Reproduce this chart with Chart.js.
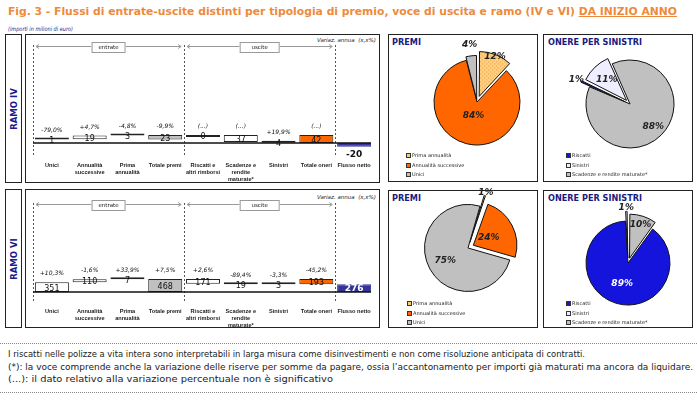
<!DOCTYPE html>
<html><head><meta charset="utf-8">
<script src="https://cdn.jsdelivr.net/npm/chart.js@4/dist/chart.umd.min.js"></script>
<style>
body{margin:0;width:697px;height:400px;background:#fff;position:relative;overflow:hidden;font-family:'DejaVu Sans',Verdana,sans-serif;}
.box{position:absolute;border:1px solid #222;box-sizing:border-box;}
.fit{position:absolute;white-space:nowrap;transform-origin:0 50%;line-height:1;}
canvas{position:absolute;}
.ramo{position:absolute;white-space:nowrap;font-weight:bold;font-size:8.5px;color:#1a1a8c;line-height:1;transform:translate(-50%,-50%) rotate(-90deg);}
.ptitle{color:#1a1a80;font-weight:bold;font-size:9px;}
.legend{position:absolute;font-size:5px;color:#222;line-height:1;}
.legend div{height:9.5px;display:flex;align-items:center;white-space:nowrap;}
.legend span.m{display:inline-block;width:3px;height:3px;border:1px solid #333;margin-right:1px;}
.dots{position:absolute;left:0;width:697px;border-top:1px dotted #888;}
.foot{font-size:8.5px;color:#222;}
</style></head><body>

<div class="fit" id="title" data-w="669" style="left:8px;top:6px;font-size:11px;font-weight:bold;color:#EE8A3C;">Fig. 3 - Flussi di entrate-uscite distinti per tipologia di premio, voce di uscita e ramo (IV e VI) <span style="text-decoration:underline;">DA INIZIO ANNO</span></div>
<div class="fit" data-w="65" style="left:8px;top:26px;font-size:6px;font-style:italic;color:#222288;">(importi in milioni di euro)</div>

<div class="box" style="left:5px;top:34px;width:17px;height:149px;"></div>
<div class="box" style="left:25px;top:34px;width:355px;height:149px;"></div>
<div class="ramo" style="left:13.5px;top:108.5px;">RAMO IV</div>
<div class="box" style="left:5px;top:189px;width:17px;height:139px;"></div>
<div class="box" style="left:25px;top:189px;width:355px;height:139px;"></div>
<div class="ramo" style="left:13.5px;top:259px;">RAMO VI</div>

<div class="fit" data-w="59" style="left:317px;top:38px;font-size:5.5px;font-style:italic;color:#222;">Variaz. annua&nbsp; (x,x%)</div>
<div class="fit" data-w="59" style="left:317px;top:195px;font-size:5.5px;font-style:italic;color:#222;">Variaz. annua&nbsp; (x,x%)</div>

<div class="box" style="left:388px;top:34px;width:150px;height:148px;"></div>
<div class="box" style="left:543px;top:34px;width:150px;height:148px;"></div>
<div class="box" style="left:388px;top:190px;width:150px;height:138px;"></div>
<div class="box" style="left:543px;top:190px;width:150px;height:138px;"></div>
<div class="fit ptitle" data-w="29" style="left:392px;top:38px;">PREMI</div>
<div class="fit ptitle" data-w="94" style="left:548px;top:38px;">ONERE PER SINISTRI</div>
<div class="fit ptitle" data-w="29" style="left:392px;top:194px;">PREMI</div>
<div class="fit ptitle" data-w="94" style="left:548px;top:194px;">ONERE PER SINISTRI</div>

<canvas id="barIV" width="353" height="147" style="left:26px;top:35px;"></canvas>
<canvas id="barVI" width="353" height="137" style="left:26px;top:190px;"></canvas>
<canvas id="pieP4" width="130" height="130" style="left:412px;top:37px;"></canvas>
<canvas id="pieO4" width="130" height="130" style="left:565px;top:39px;"></canvas>
<canvas id="pieP6" width="130" height="130" style="left:403px;top:183px;"></canvas>
<canvas id="pieO6" width="130" height="130" style="left:563px;top:198px;"></canvas>

<div class="legend" id="legP4" style="left:406px;top:151px;"></div>
<div class="legend" id="legO4" style="left:566px;top:151px;"></div>
<div class="legend" id="legP6" style="left:407px;top:299px;"></div>
<div class="legend" id="legO6" style="left:566px;top:299px;"></div>

<div class="dots" style="top:343px;"></div>
<div class="fit foot" data-w="577" style="left:8px;top:350px;">I riscatti nelle polizze a vita intera sono interpretabili in larga misura come disinvestimenti e non come risoluzione anticipata di contratti.</div>
<div class="fit foot" data-w="685" style="left:8px;top:363px;">(*): la voce comprende anche la variazione delle riserve per somme da pagare, ossia l’accantonamento per importi già maturati ma ancora da liquidare.</div>
<div class="fit foot" data-w="325" style="left:8px;top:375px;">(...): il dato relativo alla variazione percentuale non è significativo</div>
<div class="dots" style="top:392px;"></div>

<script>
// ---------- DATA ----------
const categories = [['Unici'],['Annualità','successive'],['Prima','annualità'],['Totale premi'],['Riscatti e','altri rimborsi'],['Scadenze e','rendite','maturate*'],['Sinistri'],['Totale oneri'],['Flusso netto']];
const ramoIVValues  = [1, 19, 3, 23, 0, 37, 4, 42, -20];
const ramoIVChanges = ['-79,0%','+4,7%','-4,8%','-9,9%','(...)','(...)','+19,9%','(...)',''];
const ramoVIValues  = [351, 110, 7, 468, 171, 19, 3, 193, 276];
const ramoVIChanges = ['+10,3%','-1,6%','+33,9%','+7,5%','+2,6%','-89,4%','-3,3%','-45,2%',''];
const premiLabels = ['Prima annualità','Annualità successive','Unici'];
const premiIVShares = [12, 84, 4];
const premiVIShares = [1, 24, 75];
const oneriLabels = ['Riscatti','Sinistri','Scadenze e rendite maturate*'];
const oneriIVShares = [1, 11, 88];
const oneriVIShares = [89, 1, 10];

// ---------- STYLE ----------
const FONT = "'DejaVu Sans', Verdana, sans-serif";
const TICKFONT = "'Liberation Sans', Arial, sans-serif";
Chart.defaults.font.family = FONT;
const barFills   = ['#ffffff','#ffffff','#ffffff','#C0C0C0','#ffffff','#ffffff','#ffffff','#FF6600','#333399'];
const barBorders = ['#222','#222','#222','#222','#222','#222','#222','#222','#333399'];

function fitAll(){
  document.querySelectorAll('.fit').forEach(el=>{
    const w=+el.dataset.w; const r=el.getBoundingClientRect().width;
    if(w&&r) el.style.transform='scaleX('+(w/r)+')';
  });
}
fitAll();

// waterfall ranges derived from the values
function waterfall(v){
  const premi=v[3], oneri=v[7], flusso=v[8];
  const top=Math.max(premi,oneri);
  let b=top-premi; const r=[];
  for(let i=0;i<3;i++){ r.push([b,b+v[i]]); b+=v[i]; }
  r.push([top-premi,top]);
  let t=top;
  for(let i=4;i<7;i++){ r.push([t-v[i],t]); t-=v[i]; }
  r.push([top-oneri,top]);
  r.push(flusso>=0?[0,flusso]:[flusso,0]);
  return r;
}

function arrow(ctx,x1,x2,y,headLeft){
  ctx.beginPath(); ctx.moveTo(x1,y); ctx.lineTo(x2,y); ctx.stroke();
  const hx = headLeft? x1 : x2, d = headLeft? 3 : -3;
  ctx.beginPath(); ctx.moveTo(hx+d,y-2); ctx.lineTo(hx,y); ctx.lineTo(hx+d,y+2); ctx.stroke();
}

function barPlugin(values, changes){
  return {
    id:'wf',
    beforeDatasetsDraw(chart){
      const ctx=chart.ctx, a=chart.chartArea, xs=chart.scales.x;
      const seps=[a.left,(xs.getPixelForValue(3)+xs.getPixelForValue(4))/2,(xs.getPixelForValue(7)+xs.getPixelForValue(8))/2];
      ctx.save(); ctx.strokeStyle='#555'; ctx.lineWidth=1; ctx.setLineDash([2,2]);
      seps.forEach(x=>{ctx.beginPath();ctx.moveTo(Math.round(x)+0.5,a.top);ctx.lineTo(Math.round(x)+0.5,a.bottom);ctx.stroke();});
      ctx.setLineDash([]);
      const sec=[[seps[0],seps[1],'entrate',34],[seps[1],seps[2],'uscite',40]];
      const yc=a.top+2.5;
      sec.forEach(([L,R,txt,w])=>{
        const c=(L+R)/2;
        ctx.strokeStyle='#999';
        arrow(ctx,L+3,c-w/2,yc-1,true);
        arrow(ctx,c+w/2,R-3,yc-1,false);
        ctx.fillStyle='#fff'; ctx.fillRect(c-w/2,yc-5.5,w,11);
        ctx.strokeRect(c-w/2+0.5,yc-5.5+0.5,w-1,10);
        ctx.fillStyle='#222'; ctx.font='5.5px '+FONT; ctx.textAlign='center'; ctx.textBaseline='middle';
        ctx.fillText(txt,c,yc);
      });
      ctx.restore();
    },
    afterDatasetsDraw(chart){
      const ctx=chart.ctx, a=chart.chartArea, ys=chart.scales.y;
      const y0=ys.getPixelForValue(0);
      ctx.save();
      ctx.strokeStyle='#111'; ctx.lineWidth=1.5;
      ctx.beginPath(); ctx.moveTo(a.left,y0); ctx.lineTo(a.right-2,y0); ctx.stroke();
      const meta=chart.getDatasetMeta(0);
      ctx.textAlign='center'; ctx.textBaseline='middle';
      meta.data.forEach((bar,i)=>{
        const r=chart.data.datasets[0].data[i];
        const yTop=ys.getPixelForValue(Math.max(r[0],r[1]));
        const yBot=ys.getPixelForValue(Math.min(r[0],r[1]));
        const v=values[i];
        if(i===8){
          ctx.font='bold 9px '+FONT;
          if(v<0){ ctx.fillStyle='#111'; ctx.fillText(String(v),bar.x,yBot+8); }
          else { ctx.fillStyle='#fff'; ctx.fillText(String(v),bar.x,(yTop+yBot)/2+0.5); }
        } else {
          ctx.font='8px '+FONT; ctx.fillStyle='#111';
          ctx.fillText(String(v),bar.x,(yTop+yBot)/2+1.5);
        }
        if(changes[i]){
          ctx.font='italic 6px '+FONT; ctx.fillStyle='#111';
          ctx.fillText(changes[i],bar.x,Math.min(yTop,y0-2)-8.5);
        }
      });
      ctx.restore();
    }
  };
}

function makeBar(id, values, changes, yMin, yMax, padTop, axisH){
  new Chart(document.getElementById(id), {
    type:'bar',
    data:{labels:categories, datasets:[{data:waterfall(values), backgroundColor:barFills, borderColor:barBorders,
      borderWidth:1, borderSkipped:false, minBarLength:2, categoryPercentage:1, barPercentage:0.9}]},
    options:{responsive:false, animation:false, events:[],
      layout:{padding:{left:7,right:6,top:padTop,bottom:0}},
      plugins:{legend:{display:false}, tooltip:{enabled:false}},
      scales:{
        x:{grid:{display:false,drawTicks:false}, border:{display:false},
           ticks:{autoSkip:false,maxRotation:0,minRotation:0,padding:5,color:'#222',font:{family:TICKFONT,size:5.6,weight:'bold',lineHeight:1.25}},
           afterFit(s){s.height=axisH;}},
        y:{display:false,min:yMin,max:yMax}
      }},
    plugins:[barPlugin(values,changes)]
  });
}
makeBar('barIV', ramoIVValues, ramoIVChanges, -73.5, 514.5, 10, 25);
makeBar('barVI', ramoVIValues, ramoVIChanges, -396, 3204, 13, 24);

function hatch(){
  const c=document.createElement('canvas'); c.width=4; c.height=4;
  const g=c.getContext('2d'); g.fillStyle='#FFD080'; g.fillRect(0,0,4,4);
  g.fillStyle='#E8923A'; g.fillRect(0,0,1,1); g.fillRect(2,2,1,1);
  return g.createPattern(c,'repeat');
}
const hatchFill = hatch();

const pieLabelPlugin = {
  id:'pl',
  afterDatasetsDraw(chart){
    const o=chart.options.plugins.pl; const ctx=chart.ctx;
    const meta=chart.getDatasetMeta(0); const ds=chart.data.datasets[0];
    ctx.save(); ctx.textAlign='center'; ctx.textBaseline='middle'; ctx.font='bold italic 9px '+FONT;
    meta.data.forEach((arc,i)=>{
      const mid=(arc.startAngle+arc.endAngle)/2;
      const off=(ds.offset[i]||0)/4;
      const rr=arc.outerRadius*o.factors[i]+off;
      ctx.fillStyle=o.colors[i];
      ctx.fillText(ds.data[i]+'%', arc.x+Math.cos(mid)*rr, arc.y+Math.sin(mid)*rr);
    });
    ctx.restore();
  }
};

function makePie(id, labels, shares, colors, offsets, rotation, radius, factors, txtColors, legId, legColors){
  new Chart(document.getElementById(id), {
    type:'pie',
    data:{labels, datasets:[{data:shares, backgroundColor:colors, borderColor:'#111', borderWidth:1, offset:offsets}]},
    options:{responsive:false, animation:false, events:[], rotation, radius,
      layout:{padding:0},
      plugins:{legend:{display:false}, tooltip:{enabled:false}, pl:{factors, colors:txtColors}}},
    plugins:[pieLabelPlugin]
  });
  const leg=document.getElementById(legId);
  labels.forEach((l,i)=>{
    const d=document.createElement('div');
    d.innerHTML='<span class="m" style="background:'+legColors[i]+'"></span>'+l;
    leg.appendChild(d);
  });
}
const BLUE='#1414DC';
makePie('pieP4', premiLabels, premiIVShares, [hatchFill,'#FF6600','#C0C0C0'], [24,0,8], 0, 43, [1.0,0.33,1.3], ['#222','#222','#222'], 'legP4', ['#FFCC66','#FF6600','#C0C0C0']);
makePie('pieO4', oneriLabels, oneriIVShares, [BLUE,'#EEEEFF','#C0C0C0'], [20,20,0], -67, 44, [1.23,0.65,0.74], ['#222','#222','#222'], 'legO4', [BLUE,'#EEEEFF','#C0C0C0']);
makePie('pieP6', premiLabels, premiVIShares, [hatchFill,'#FF6600','#C0C0C0'], [24,24,0], 16, 43.5, [1.2,0.4,0.6], ['#222','#222','#222'], 'legP6', ['#FFCC66','#FF6600','#C0C0C0']);
makePie('pieO6', oneriLabels, oneriVIShares, [BLUE,'#EEEEFF','#C0C0C0'], [0,20,20], 36, 42, [0.5,1.2,0.85], ['#fff','#222','#222'], 'legO6', [BLUE,'#EEEEFF','#C0C0C0']);
</script>
</body></html>
